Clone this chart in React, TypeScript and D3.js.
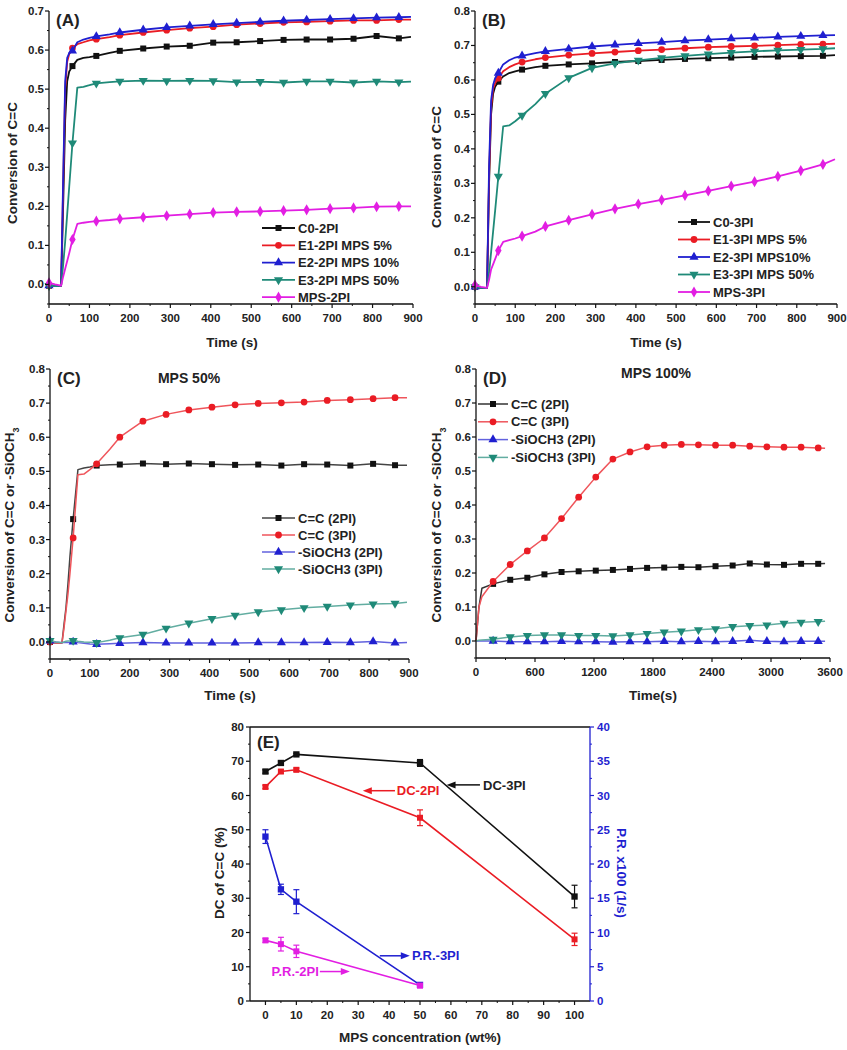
import React from 'react';
import * as d3 from 'd3';

// ---- data ----
const timeABC = [0, 15, 30, 35, 40, 45, 50, 58, 70, 85, 100, 117, 150, 175, 233, 291, 348, 406, 464, 522, 580, 637, 695, 753, 810, 865, 895];
const markTimeABC = [0, 58, 117, 175, 233, 291, 348, 406, 464, 522, 580, 637, 695, 753, 810, 865];

const aC0 = [-0.003, -0.004, -0.003, 0.2, 0.42, 0.52, 0.545, 0.559, 0.575, 0.58, 0.582, 0.585, 0.593, 0.598, 0.604, 0.609, 0.611, 0.619, 0.62, 0.623, 0.626, 0.627, 0.627, 0.629, 0.636, 0.63, 0.634];
const aE1 = [-0.003, -0.004, -0.003, 0.25, 0.5, 0.57, 0.59, 0.605, 0.615, 0.62, 0.625, 0.628, 0.633, 0.638, 0.645, 0.651, 0.656, 0.66, 0.665, 0.668, 0.671, 0.672, 0.674, 0.676, 0.676, 0.678, 0.678];
const aE2 = [-0.003, -0.004, -0.003, 0.27, 0.52, 0.58, 0.592, 0.598, 0.62, 0.627, 0.631, 0.635, 0.64, 0.645, 0.652, 0.658, 0.662, 0.666, 0.669, 0.672, 0.675, 0.677, 0.679, 0.681, 0.683, 0.684, 0.685];
const aE3 = [-0.003, -0.004, -0.003, 0.05, 0.11, 0.18, 0.25, 0.362, 0.504, 0.506, 0.51, 0.515, 0.518, 0.52, 0.522, 0.521, 0.522, 0.521, 0.518, 0.519, 0.517, 0.52, 0.52, 0.517, 0.52, 0.518, 0.519];
const aMPS = [0.004, 0.0, -0.003, 0.02, 0.04, 0.06, 0.08, 0.115, 0.155, 0.158, 0.16, 0.162, 0.165, 0.168, 0.172, 0.176, 0.18, 0.184, 0.186, 0.187, 0.189, 0.191, 0.194, 0.196, 0.199, 0.2, 0.2];

const bC0 = [0.0, -0.003, -0.003, 0.3, 0.5, 0.56, 0.58, 0.595, 0.61, 0.62, 0.625, 0.63, 0.637, 0.641, 0.645, 0.648, 0.652, 0.655, 0.658, 0.661, 0.663, 0.665, 0.667, 0.668, 0.669, 0.67, 0.672];
const bE1 = [0.0, -0.003, -0.003, 0.32, 0.52, 0.575, 0.59, 0.605, 0.625, 0.637, 0.645, 0.652, 0.66, 0.665, 0.672, 0.677, 0.681, 0.685, 0.688, 0.692, 0.695, 0.697, 0.699, 0.701, 0.703, 0.704, 0.705];
const bE2 = [0.0, -0.003, -0.003, 0.35, 0.54, 0.585, 0.605, 0.62, 0.645, 0.657, 0.665, 0.67, 0.678, 0.683, 0.69, 0.697, 0.702, 0.706, 0.71, 0.714, 0.717, 0.72, 0.722, 0.725, 0.727, 0.729, 0.73];
const bE3 = [0.0, -0.003, -0.003, 0.04, 0.1, 0.16, 0.22, 0.32, 0.465, 0.468, 0.48, 0.497, 0.53, 0.56, 0.606, 0.635, 0.648, 0.657, 0.664, 0.67, 0.675, 0.679, 0.683, 0.686, 0.688, 0.69, 0.692];
const bMPS = [0.005, 0.0, -0.003, 0.02, 0.05, 0.065, 0.08, 0.105, 0.13, 0.135, 0.14, 0.147, 0.16, 0.175, 0.193, 0.21, 0.226, 0.24, 0.252, 0.265, 0.278, 0.292, 0.305, 0.32, 0.337, 0.355, 0.37];

const cCC2 = [0.0, -0.003, -0.003, 0.05, 0.1, 0.17, 0.25, 0.36, 0.505, 0.51, 0.513, 0.517, 0.519, 0.52, 0.523, 0.521, 0.523, 0.521, 0.519, 0.52, 0.517, 0.521, 0.52, 0.517, 0.522, 0.518, 0.518];
const cCC3 = [0.0, -0.003, -0.003, 0.04, 0.09, 0.14, 0.2, 0.305, 0.49, 0.492, 0.505, 0.522, 0.565, 0.6, 0.647, 0.667, 0.68, 0.688, 0.695, 0.699, 0.701, 0.703, 0.708, 0.71, 0.713, 0.716, 0.716];
const cSi2 = [0.003, 0.0, -0.002, -0.002, -0.002, -0.002, -0.001, 0.0, -0.002, -0.004, -0.006, -0.007, -0.005, -0.004, -0.002, -0.003, -0.003, -0.003, -0.003, -0.002, -0.002, -0.002, -0.001, -0.002, 0.001, -0.003, -0.002];
const cSi3 = [0.004, 0.0, -0.002, 0.0, 0.002, 0.003, 0.003, 0.004, 0.002, 0.0, -0.001, -0.002, 0.005, 0.012, 0.022, 0.04, 0.055, 0.068, 0.078, 0.088, 0.094, 0.1, 0.104, 0.108, 0.111, 0.113, 0.116];

const timeD = [0, 30, 60, 174, 348, 522, 696, 870, 1044, 1218, 1392, 1566, 1740, 1914, 2088, 2262, 2436, 2610, 2784, 2958, 3132, 3306, 3480, 3550];
const markTimeD = [174, 348, 522, 696, 870, 1044, 1218, 1392, 1566, 1740, 1914, 2088, 2262, 2436, 2610, 2784, 2958, 3132, 3306, 3480];
const dCC2 = [0, 0.1, 0.155, 0.168, 0.18, 0.186, 0.196, 0.203, 0.205, 0.207, 0.209, 0.212, 0.215, 0.216, 0.218, 0.217, 0.22, 0.222, 0.228, 0.225, 0.224, 0.227, 0.227, 0.228];
const dCC3 = [0, 0.1, 0.13, 0.175, 0.225, 0.265, 0.303, 0.36, 0.423, 0.482, 0.535, 0.556, 0.571, 0.576, 0.578, 0.577, 0.576, 0.576, 0.573, 0.571, 0.57, 0.57, 0.568, 0.567];
const dSi2 = [0, 0, 0.0, 0.0, -0.002, -0.002, -0.002, -0.001, -0.002, -0.002, -0.003, -0.002, -0.002, -0.001, -0.002, -0.001, -0.002, -0.001, 0.002, -0.001, -0.002, -0.001, -0.001, -0.001];
const dSi3 = [0, 0.002, 0.003, 0.005, 0.012, 0.016, 0.018, 0.018, 0.016, 0.016, 0.015, 0.018, 0.022, 0.026, 0.029, 0.033, 0.036, 0.042, 0.045, 0.047, 0.052, 0.055, 0.057, 0.058];

const ticks900 = [0, 100, 200, 300, 400, 500, 600, 700, 800, 900];
const ticks3600 = [0, 600, 1200, 1800, 2400, 3000, 3600];
const ticks07 = [0, 0.1, 0.2, 0.3, 0.4, 0.5, 0.6, 0.7];
const ticks08 = [0, 0.1, 0.2, 0.3, 0.4, 0.5, 0.6, 0.7, 0.8];

// panel E
const mpsConc = [0, 5, 10, 50, 100];
const dc3PI = [67, 69.5, 72, 69.5, 30.5];
const dc3PIErr = [0.5, 0.5, 0.3, 1, 3.3];
const dc2PI = [62.5, 67, 67.5, 53.5, 18];
const dc2PIErr = [0.5, 0.5, 0.5, 2.3, 1.8];
const prConc = [0, 5, 10, 50];
const pr3PI = [24, 16.3, 14.5, 2.35];
const pr3PIErr = [1, 0.75, 1.75, 0.3];
const pr2PI = [8.85, 8.3, 7.25, 2.25];
const pr2PIErr = [0.3, 1, 0.9, 0.3];
const eLeftTicks = [0, 10, 20, 30, 40, 50, 60, 70, 80];
const eRightTicks = [0, 5, 10, 15, 20, 25, 30, 35, 40];
const eXTicks = [0, 10, 20, 30, 40, 50, 60, 70, 80, 90, 100];

// ---- styles ----
const FONT = '"Liberation Sans", Arial, Helvetica, sans-serif';
const BLACK = '#111111';
const RED = '#ea1c24';
const BLUE = '#1f1fd0';
const TEAL = '#1f8a78';
const MAG = '#e21ee2';

type Sym = 'square' | 'circle' | 'up' | 'down' | 'diamond';

interface Series {
  name: string;
  values: number[];
  color: string;
  lineColor: string;
  sym: Sym;
}

function Marker({ x, y, sym, color, size = 36 }: { x: number; y: number; sym: Sym; color: string; size?: number }) {
  const type =
    sym === 'square' ? d3.symbolSquare :
    sym === 'circle' ? d3.symbolCircle :
    sym === 'diamond' ? d3.symbolDiamond : d3.symbolTriangle;
  const d = d3.symbol().type(type).size(size)() || '';
  const rot = sym === 'down' ? ' rotate(180)' : '';
  return <path d={d} transform={`translate(${x},${y})${rot}`} fill={color} />;
}

interface PanelProps {
  left: number; right: number; top: number; bottom: number;
  xDomain: [number, number]; yDomain: [number, number];
  xTicks: number[]; yTicks: number[];
  times: number[]; markTimes: number[];
  series: Series[];
  legend: { x: number; y: number; step: number; len: number };
  tag: string; note?: string; noteX?: number; noteY?: number;
  yTitle: React.ReactNode; yTitleX: number; yTitleY: number;
  xTitle: string; xTitleX: number; xTitleY: number;
  lineWidth: number;
}

function TimePanel(p: PanelProps) {
  const x = d3.scaleLinear().domain(p.xDomain).range([p.left, p.right]);
  const y = d3.scaleLinear().domain(p.yDomain).range([p.bottom, p.top]);
  const line = d3.line<number>().x((_, i) => x(p.times[i])).y(v => y(v));
  const xStep = p.xTicks[1] - p.xTicks[0];
  const yStep = p.yTicks[1] - p.yTicks[0];
  const xMinor = p.xTicks.slice(0, -1).map(t => t + xStep / 2);
  const yMinor = [p.yTicks[0] - yStep / 2, ...p.yTicks.map(t => t + yStep / 2)].filter(t => t >= p.yDomain[0] && t <= p.yDomain[1]);
  return (
    <g fontFamily={FONT} fontWeight="bold">
      {p.series.map(s => (
        <g key={s.name}>
          <path d={line(s.values) || ''} fill="none" stroke={s.lineColor} strokeWidth={p.lineWidth} strokeLinejoin="round" />
          {p.times.map((t, i) => p.markTimes.includes(t) ? (
            <Marker key={i} x={x(t)} y={y(s.values[i])} sym={s.sym} color={s.color} />
          ) : null)}
        </g>
      ))}
      {/* axes */}
      <line x1={p.left} x2={p.left} y1={p.top} y2={p.bottom} stroke="#111" strokeWidth={1.3} />
      <line x1={p.left} x2={p.right} y1={p.bottom} y2={p.bottom} stroke="#111" strokeWidth={1.3} />
      {p.yTicks.map(t => (
        <g key={'y' + t}>
          <line x1={p.left - 4} x2={p.left} y1={y(t)} y2={y(t)} stroke="#111" strokeWidth={1.2} />
          <text x={p.left - 5} y={y(t)} dy="0.35em" textAnchor="end" fontSize={11.5} fill="#222">{d3.format('.1f')(t)}</text>
        </g>
      ))}
      {yMinor.map(t => <line key={'ym' + t} x1={p.left - 2} x2={p.left} y1={y(t)} y2={y(t)} stroke="#111" />)}
      {p.xTicks.map(t => (
        <g key={'x' + t}>
          <line x1={x(t)} x2={x(t)} y1={p.bottom} y2={p.bottom + 4} stroke="#111" strokeWidth={1.2} />
          <text x={x(t)} y={p.bottom + 18} textAnchor="middle" fontSize={11.5} fill="#222">{t}</text>
        </g>
      ))}
      {xMinor.map(t => <line key={'xm' + t} x1={x(t)} x2={x(t)} y1={p.bottom} y2={p.bottom + 2} stroke="#111" />)}
      {/* legend */}
      {p.series.map((s, i) => {
        const ly = p.legend.y + i * p.legend.step;
        return (
          <g key={'lg' + s.name}>
            <line x1={p.legend.x} x2={p.legend.x + p.legend.len} y1={ly} y2={ly} stroke={s.lineColor} strokeWidth={p.lineWidth} />
            <Marker x={p.legend.x + p.legend.len / 2} y={ly} sym={s.sym} color={s.color} />
            <text x={p.legend.x + p.legend.len + 3} y={ly} dy="0.36em" fontSize={13} fill="#222">{s.name}</text>
          </g>
        );
      })}
      <text x={p.left + 7} y={p.top + 15} fontSize={17} fill="#222">{p.tag}</text>
      {p.note && <text x={p.noteX} y={p.noteY} textAnchor="middle" fontSize={14} fill="#222">{p.note}</text>}
      <text transform={`translate(${p.yTitleX},${p.yTitleY}) rotate(-90)`} textAnchor="middle" fontSize={13.5} fill="#222">{p.yTitle}</text>
      <text x={p.xTitleX} y={p.xTitleY} textAnchor="middle" fontSize={13.5} fill="#222">{p.xTitle}</text>
    </g>
  );
}

function Arrow({ x1, x2, y, color }: { x1: number; x2: number; y: number; color: string }) {
  const dir = x2 > x1 ? 1 : -1;
  return (
    <g>
      <line x1={x1} x2={x2 - dir * 6} y1={y} y2={y} stroke={color} strokeWidth={1.5} />
      <path d={`M${x2},${y} L${x2 - dir * 9},${y - 3.5} L${x2 - dir * 9},${y + 3.5} Z`} fill={color} />
    </g>
  );
}

function PanelE() {
  const left = 250, right = 590, top = 727, bottom = 1001;
  const x = d3.scaleLinear().domain([-5, 105]).range([left, right]);
  const yL = d3.scaleLinear().domain([0, 80]).range([bottom, top]);
  const yR = d3.scaleLinear().domain([0, 40]).range([bottom, top]);
  const lineL = (vals: number[]) => d3.line<number>().x((_, i) => x(mpsConc[i])).y(v => yL(v))(vals) || '';
  const lineR = (vals: number[]) => d3.line<number>().x((_, i) => x(prConc[i])).y(v => yR(v))(vals) || '';
  const errs = (xs: number[], vals: number[], err: number[], sc: d3.ScaleLinear<number, number>, color: string) =>
    xs.map((c, i) => (
      <g key={i} stroke={color} strokeWidth={1.2}>
        <line x1={x(c)} x2={x(c)} y1={sc(vals[i] - err[i])} y2={sc(vals[i] + err[i])} />
        <line x1={x(c) - 3} x2={x(c) + 3} y1={sc(vals[i] - err[i])} y2={sc(vals[i] - err[i])} />
        <line x1={x(c) - 3} x2={x(c) + 3} y1={sc(vals[i] + err[i])} y2={sc(vals[i] + err[i])} />
      </g>
    ));
  return (
    <g fontFamily={FONT} fontWeight="bold">
      <path d={lineL(dc3PI)} fill="none" stroke={BLACK} strokeWidth={1.6} />
      {errs(mpsConc, dc3PI, dc3PIErr, yL, BLACK)}
      {mpsConc.map((c, i) => <Marker key={'k' + i} x={x(c)} y={yL(dc3PI[i])} sym="square" color={BLACK} size={40} />)}
      <path d={lineL(dc2PI)} fill="none" stroke={RED} strokeWidth={1.6} />
      {errs(mpsConc, dc2PI, dc2PIErr, yL, RED)}
      {mpsConc.map((c, i) => <Marker key={'r' + i} x={x(c)} y={yL(dc2PI[i])} sym="square" color={RED} size={36} />)}
      <path d={lineR(pr3PI)} fill="none" stroke={BLUE} strokeWidth={1.6} />
      {errs(prConc, pr3PI, pr3PIErr, yR, BLUE)}
      {prConc.map((c, i) => <Marker key={'b' + i} x={x(c)} y={yR(pr3PI[i])} sym="square" color={BLUE} size={40} />)}
      <path d={lineR(pr2PI)} fill="none" stroke={MAG} strokeWidth={1.6} />
      {errs(prConc, pr2PI, pr2PIErr, yR, MAG)}
      {prConc.map((c, i) => <Marker key={'m' + i} x={x(c)} y={yR(pr2PI[i])} sym="square" color={MAG} size={36} />)}

      {/* frame */}
      <line x1={left} x2={right} y1={top} y2={top} stroke="#111" strokeWidth={1.3} />
      <line x1={left} x2={right} y1={bottom} y2={bottom} stroke="#111" strokeWidth={1.3} />
      <line x1={left} x2={left} y1={top} y2={bottom} stroke="#111" strokeWidth={1.3} />
      <line x1={right} x2={right} y1={top} y2={bottom} stroke={BLUE} strokeWidth={1.3} />
      {eLeftTicks.map(t => (
        <g key={'l' + t}>
          <line x1={left - 4} x2={left} y1={yL(t)} y2={yL(t)} stroke="#111" strokeWidth={1.2} />
          <text x={left - 6} y={yL(t)} dy="0.35em" textAnchor="end" fontSize={11.5} fill="#222">{t}</text>
        </g>
      ))}
      {eLeftTicks.slice(0, -1).map(t => <line key={'lm' + t} x1={left - 2} x2={left} y1={yL(t + 5)} y2={yL(t + 5)} stroke="#111" />)}
      {eRightTicks.map(t => (
        <g key={'r' + t}>
          <line x1={right} x2={right + 4} y1={yR(t)} y2={yR(t)} stroke={BLUE} strokeWidth={1.2} />
          <text x={right + 7} y={yR(t)} dy="0.35em" fontSize={11.5} fill={BLUE}>{t}</text>
        </g>
      ))}
      {eRightTicks.slice(0, -1).map(t => <line key={'rm' + t} x1={right} x2={right + 2} y1={yR(t + 2.5)} y2={yR(t + 2.5)} stroke={BLUE} />)}
      {eXTicks.map(t => (
        <g key={'x' + t}>
          <line x1={x(t)} x2={x(t)} y1={bottom} y2={bottom + 4} stroke="#111" strokeWidth={1.2} />
          <text x={x(t)} y={bottom + 18} textAnchor="middle" fontSize={11.5} fill="#222">{t}</text>
        </g>
      ))}
      {eXTicks.slice(0, -1).map(t => <line key={'xm' + t} x1={x(t + 5)} x2={x(t + 5)} y1={bottom} y2={bottom + 2} stroke="#111" />)}

      {/* annotations */}
      <Arrow x1={x(69.4)} x2={x(58.6)} y={yL(63.1)} color={BLACK} />
      <text x={x(70.4)} y={yL(63.1)} dy="0.36em" fontSize={13} fill="#222">DC-3PI</text>
      <Arrow x1={x(41.9)} x2={x(31.5)} y={yL(61.4)} color={RED} />
      <text x={x(42.5)} y={yL(61.4)} dy="0.36em" fontSize={13} fill={RED}>DC-2PI</text>
      <Arrow x1={x(37)} x2={x(46.7)} y={yL(13.2)} color={BLUE} />
      <text x={x(47.4)} y={yL(13.2)} dy="0.36em" fontSize={13} fill={BLUE}>P.R.-3PI</text>
      <Arrow x1={x(17.6)} x2={x(27.3)} y={yL(8.6)} color={MAG} />
      <text x={x(17.6) - 1} y={yL(8.6)} dy="0.36em" textAnchor="end" fontSize={13} fill={MAG}>P.R.-2PI</text>

      <text x={left + 7} y={top + 21} fontSize={17} fill="#222">(E)</text>
      <text transform={`translate(224,873) rotate(-90)`} textAnchor="middle" fontSize={13.5} fill="#222">DC of C=C (%)</text>
      <text transform={`translate(617,873) rotate(90)`} textAnchor="middle" fontSize={13.5} fill={BLUE}>P.R. x100 (1/s)</text>
      <text x={420} y={1042} textAnchor="middle" fontSize={13.5} fill="#222">MPS concentration (wt%)</text>
    </g>
  );
}

const lighten = (c: string, k: number) => d3.interpolateRgb(c, '#ffffff')(k);

export default function App() {
  const seriesA: Series[] = [
    { name: 'C0-2PI', values: aC0, color: BLACK, lineColor: BLACK, sym: 'square' },
    { name: 'E1-2PI MPS 5%', values: aE1, color: RED, lineColor: RED, sym: 'circle' },
    { name: 'E2-2PI MPS 10%', values: aE2, color: BLUE, lineColor: BLUE, sym: 'up' },
    { name: 'E3-2PI MPS 50%', values: aE3, color: TEAL, lineColor: TEAL, sym: 'down' },
    { name: 'MPS-2PI', values: aMPS, color: MAG, lineColor: MAG, sym: 'diamond' },
  ];
  const seriesB: Series[] = [
    { name: 'C0-3PI', values: bC0, color: BLACK, lineColor: BLACK, sym: 'square' },
    { name: 'E1-3PI MPS 5%', values: bE1, color: RED, lineColor: RED, sym: 'circle' },
    { name: 'E2-3PI MPS10%', values: bE2, color: BLUE, lineColor: BLUE, sym: 'up' },
    { name: 'E3-3PI MPS 50%', values: bE3, color: TEAL, lineColor: TEAL, sym: 'down' },
    { name: 'MPS-3PI', values: bMPS, color: MAG, lineColor: MAG, sym: 'diamond' },
  ];
  const seriesC: Series[] = [
    { name: 'C=C (2PI)', values: cCC2, color: BLACK, lineColor: '#444', sym: 'square' },
    { name: 'C=C (3PI)', values: cCC3, color: RED, lineColor: lighten(RED, 0.25), sym: 'circle' },
    { name: '-SiOCH3 (2PI)', values: cSi2, color: BLUE, lineColor: lighten(BLUE, 0.3), sym: 'up' },
    { name: '-SiOCH3 (3PI)', values: cSi3, color: TEAL, lineColor: lighten(TEAL, 0.3), sym: 'down' },
  ];
  const seriesD: Series[] = [
    { name: 'C=C (2PI)', values: dCC2, color: BLACK, lineColor: '#333', sym: 'square' },
    { name: 'C=C (3PI)', values: dCC3, color: RED, lineColor: lighten(RED, 0.25), sym: 'circle' },
    { name: '-SiOCH3 (2PI)', values: dSi2, color: BLUE, lineColor: lighten(BLUE, 0.3), sym: 'up' },
    { name: '-SiOCH3 (3PI)', values: dSi3, color: TEAL, lineColor: lighten(TEAL, 0.3), sym: 'down' },
  ];
  const siTitle = (
    <>
      Conversion of C=C or -SiOCH<tspan baselineShift="sub" fontSize={9}>3</tspan>
    </>
  );
  return (
    <svg width={847} height={1050} style={{ position: 'absolute', left: 0, top: 0, background: '#fff' }}>
      <rect width={847} height={1050} fill="#fff" />
      <TimePanel left={49} right={413} top={11} bottom={304} xDomain={[0, 900]} yDomain={[-0.05, 0.7]}
        xTicks={ticks900} yTicks={ticks07} times={timeABC} markTimes={markTimeABC} series={seriesA}
        legend={{ x: 262, y: 228, step: 17.3, len: 33 }} tag="(A)"
        yTitle="Conversion of C=C" yTitleX={17} yTitleY={163} xTitle="Time (s)" xTitleX={232} xTitleY={347} lineWidth={1.8} />
      <TimePanel left={475} right={837} top={11} bottom={304} xDomain={[0, 900]} yDomain={[-0.05, 0.8]}
        xTicks={ticks900} yTicks={ticks08} times={timeABC} markTimes={markTimeABC} series={seriesB}
        legend={{ x: 678, y: 222, step: 17.5, len: 32 }} tag="(B)"
        yTitle="Conversion of C=C" yTitleX={441} yTitleY={167} xTitle="Time (s)" xTitleX={656} xTitleY={347} lineWidth={1.8} />
      <TimePanel left={50} right={409} top={369} bottom={659} xDomain={[0, 900]} yDomain={[-0.05, 0.8]}
        xTicks={ticks900} yTicks={ticks08} times={timeABC} markTimes={markTimeABC} series={seriesC}
        legend={{ x: 262, y: 518, step: 17, len: 33 }} tag="(C)" note="MPS 50%" noteX={189} noteY={383}
        yTitle={siTitle} yTitleX={14} yTitleY={525} xTitle="Time (s)" xTitleX={230} xTitleY={700} lineWidth={1.5} />
      <TimePanel left={476} right={830} top={369} bottom={658} xDomain={[0, 3600]} yDomain={[-0.05, 0.8]}
        xTicks={ticks3600} yTicks={ticks08} times={timeD} markTimes={markTimeD} series={seriesD}
        legend={{ x: 478, y: 404, step: 17.8, len: 30 }} tag="(D)" note="MPS 100%" noteX={656} noteY={378}
        yTitle={siTitle} yTitleX={441} yTitleY={525} xTitle="Time(s)" xTitleX={653} xTitleY={700} lineWidth={1.5} />
      <PanelE />
    </svg>
  );
}
